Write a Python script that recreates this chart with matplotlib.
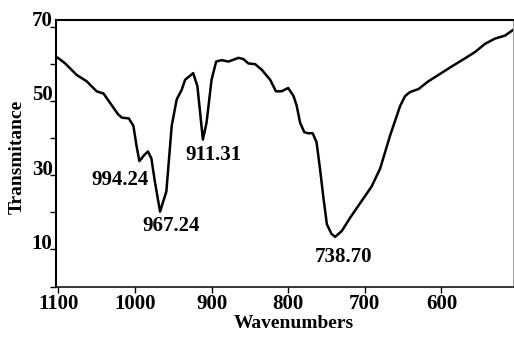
import matplotlib
matplotlib.use("Agg")
import matplotlib.pyplot as plt
from matplotlib.ticker import FixedLocator, FixedFormatter
from matplotlib.transforms import ScaledTranslation

# ---- data ----
wavenumbers = [1101, 1091, 1076, 1063, 1050, 1041, 1032.5, 1022, 1017, 1008,
               1002, 998, 994.2, 988, 983, 978.5, 974, 967.2, 959, 952,
               945.5, 939, 934.5, 924, 918.5, 914.5, 911.3, 906.5, 900, 894,
               887, 878, 865, 858.5, 852, 843, 834.5, 823.5, 816, 808.5,
               800, 793, 789, 784.5, 779, 774, 768, 763, 758.5, 754,
               749.5, 743.5, 738.7, 730, 719, 706, 691, 680, 667, 654,
               647.5, 641, 630, 617, 604, 586.5, 569, 556, 543, 530,
               517, 506]
transmittance = [61.7, 60.1, 57.0, 55.3, 52.6, 52.0, 49.5, 46.4, 45.5, 45.3,
                 43.3, 38.0, 33.8, 35.4, 36.4, 34.5, 28.3, 20.2, 25.6, 43.3,
                 50.4, 53.0, 55.7, 57.5, 54.0, 46.0, 39.6, 44.2, 55.7, 60.6,
                 61.0, 60.6, 61.6, 61.3, 60.1, 59.9, 58.4, 55.7, 52.6, 52.6,
                 53.5, 51.3, 48.8, 44.2, 41.6, 41.3, 41.3, 38.9, 31.8, 23.9,
                 16.8, 14.2, 13.4, 15.0, 18.6, 22.5, 27.0, 31.8, 40.7, 48.6,
                 51.3, 52.4, 53.2, 55.3, 57.0, 59.3, 61.5, 63.2, 65.4, 66.8,
                 67.6, 69.2]

peak_labels = ["994.24", "967.24", "911.31", "738.70"]
peak_label_x = [1019.3, 953.1, 897.6, 728.1]
peak_label_y = [27.4, 15.0, 34.1, 6.7]

x_ticks = [1100, 1000, 900, 800, 700, 600]
x_tick_labels = ["1100", "1000", "900", "800", "700", "600"]
y_ticks = [0, 10, 20, 30, 40, 50, 60, 70]
y_tick_labels = ["", "10", "", "30", "", "50", "", "70"]

FONT = "Liberation Serif"

fig = plt.figure(figsize=(5.14, 3.38), dpi=100)
ax = fig.add_axes([56 / 514, 51 / 338, 456.7 / 514, 267 / 338])

ax.plot(wavenumbers, transmittance, color="black", lw=1.8,
        solid_joinstyle="round", solid_capstyle="round")

ax.set_xlim(1103, 507)
ax.set_ylim(-0.1, 71.8)

ax.xaxis.set_major_locator(FixedLocator(x_ticks))
ax.xaxis.set_major_formatter(FixedFormatter(x_tick_labels))
ax.yaxis.set_major_locator(FixedLocator(y_ticks))
ax.yaxis.set_major_formatter(FixedFormatter(y_tick_labels))

ax.tick_params(axis="x", direction="out", length=4.5, width=1.0, pad=0.5)
ax.tick_params(axis="y", direction="out", length=4.5, width=1.0, pad=-2)

for lab in ax.get_xticklabels() + ax.get_yticklabels():
    lab.set_fontfamily(FONT)
    lab.set_fontweight("bold")
    lab.set_fontsize(15)

offset = ScaledTranslation(0, 8 / 100, fig.dpi_scale_trans)
for lab in ax.get_yticklabels():
    lab.set_transform(lab.get_transform() + offset)

ax.spines["left"].set_linewidth(1.5)
ax.spines["top"].set_linewidth(1.5)
ax.spines["bottom"].set_linewidth(1.1)
ax.spines["right"].set_linewidth(0.6)
ax.spines["right"].set_color("#888888")

for txt, x, y in zip(peak_labels, peak_label_x, peak_label_y):
    ax.text(x, y, txt, ha="center", va="baseline", fontfamily=FONT,
            fontweight="bold", fontsize=15)

ax.set_xlabel("Wavenumbers", fontfamily=FONT, fontweight="bold", fontsize=14)
ax.set_ylabel("Transmitance", fontfamily=FONT, fontweight="bold", fontsize=14)
ax.xaxis.set_label_coords((294 - 56) / 456.7, (287 - 323) / 267)
ax.yaxis.set_label_coords((17.5 - 56) / 456.7, (287 - 156.5) / 267)
ax.xaxis.label.set_verticalalignment("center")
ax.yaxis.label.set_verticalalignment("center")

fig.savefig("out.png", dpi=100)
